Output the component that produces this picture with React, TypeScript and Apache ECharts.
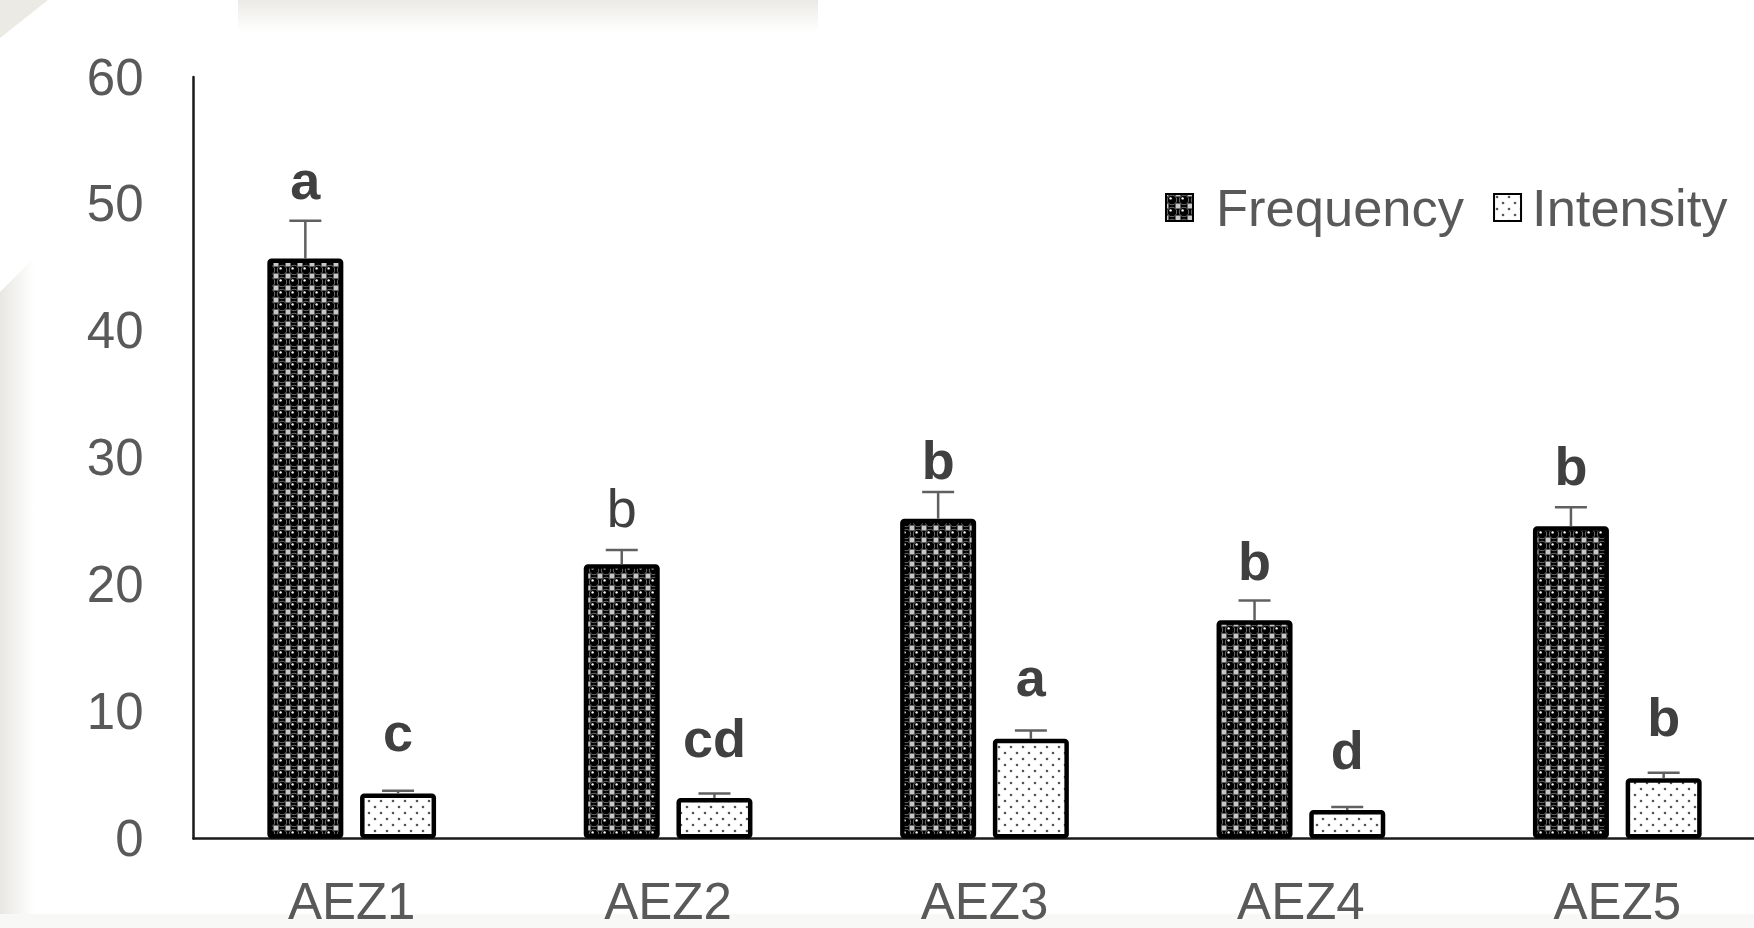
import React, { useEffect, useRef } from "react";
import * as echarts from "echarts";

const categories = ["AEZ1", "AEZ2", "AEZ3", "AEZ4", "AEZ5"];
const frequency = [45.7, 21.6, 25.2, 17.2, 24.6];
const frequencySE = [2.97, 1.13, 2.1, 1.55, 1.5];
const intensity = [3.55, 3.2, 7.85, 2.25, 4.75];
const intensitySE = [0.22, 0.35, 0.65, 0.23, 0.43];
const frequencyLetters = ["a", "b", "b", "b", "b"];
const intensityLetters = ["c", "cd", "a", "d", "b"];
const frequencyLetterBold = [true, false, true, true, true];
const intensityLetterBold = [true, true, true, true, true];
// height (in axis units) at which the bottom of each significance letter sits
const frequencyLetterY = [50.2, 24.4, 28.2, 20.2, 27.7];
const intensityLetterY = [6.7, 6.3, 11.1, 5.3, 7.9];
const yMin = 0;
const yMax = 60;
const yInterval = 10;

const FONT = "'Liberation Sans', Arial, Helvetica, sans-serif";
const TEXT_COLOR = "#595959";
const LETTER_COLOR = "#404040";
const ERR_COLOR = "#606060";
const BAR_W = 76;
const GAP = 0.22;
const OFFSET = (BAR_W * (1 + GAP)) / 2;

function sphereTile(): HTMLCanvasElement {
  const s = 12;
  const c = document.createElement("canvas");
  c.width = s;
  c.height = s;
  const g = c.getContext("2d")!;
  g.fillStyle = "#000";
  g.fillRect(0, 0, s, s);
  g.fillStyle = "#c8c8c8";
  const q = 2.5;
  g.fillRect(0, 0, q, q);
  g.fillRect(s - q, 0, q, q);
  g.fillRect(0, s - q, q, q);
  g.fillRect(s - q, s - q, q, q);
  g.strokeStyle = "#8a8a8a";
  g.lineWidth = 0.9;
  g.beginPath();
  g.arc(6, 6, 4.7, 0, Math.PI * 2);
  g.stroke();
  g.fillStyle = "#000";
  g.beginPath();
  g.arc(6, 6, 4.2, 0, Math.PI * 2);
  g.fill();
  g.fillStyle = "#ffffff";
  g.beginPath();
  g.arc(4.6, 4.4, 1.2, 0, Math.PI * 2);
  g.fill();
  return c;
}

function dotTile(): HTMLCanvasElement {
  const s = 12;
  const c = document.createElement("canvas");
  c.width = s;
  c.height = s;
  const g = c.getContext("2d")!;
  g.fillStyle = "#fff";
  g.fillRect(0, 0, s, s);
  g.fillStyle = "#555";
  [[3, 3], [9, 9]].forEach(([x, y]) => {
    g.beginPath();
    g.arc(x, y, 1.3, 0, Math.PI * 2);
    g.fill();
  });
  return c;
}

function errSeries(
  name: string,
  values: number[],
  se: number[],
  letters: string[],
  letterY: number[],
  bold: boolean[],
  side: number
) {
  return {
    type: "custom",
    name,
    silent: true,
    z: 5,
    data: values.map((v, i) => [i, v, v + se[i], letterY[i]]),
    encode: { x: 0, y: [1, 2] },
    renderItem: (params: any, api: any) => {
      const i = api.value(0);
      const base = api.coord([i, api.value(1)]);
      const top = api.coord([i, api.value(2)]);
      const lab = api.coord([i, api.value(3)]);
      const x = base[0] + side * OFFSET;
      return {
        type: "group",
        children: [
          {
            type: "line",
            shape: { x1: x, y1: base[1], x2: x, y2: top[1] },
            style: { stroke: ERR_COLOR, lineWidth: 2.5 },
          },
          {
            type: "line",
            shape: { x1: x - 16, y1: top[1], x2: x + 16, y2: top[1] },
            style: { stroke: ERR_COLOR, lineWidth: 2.5 },
          },
          {
            type: "text",
            x,
            y: lab[1] + 6,
            style: {
              text: letters[i],
              fontSize: 54,
              fontWeight: bold[i] ? "bold" : "normal",
              fontFamily: FONT,
              fill: LETTER_COLOR,
              align: "center",
              verticalAlign: "bottom",
            },
          },
        ],
      };
    },
  };
}

export default function App() {
  const ref = useRef<HTMLDivElement>(null);
  useEffect(() => {
    if (!ref.current) return;
    const chart = echarts.init(ref.current, null, { renderer: "svg" });
    const sphere = sphereTile();
    const dots = dotTile();
    const option: any = {
      animation: false,
      backgroundColor: "#ffffff",
      grid: {
        left: 193.5,
        top: 77,
        width: 1582,
        height: 761.5,
        outerBoundsMode: "none",
        containLabel: false,
      },
      legend: {
        left: 1160,
        top: 176,
        itemWidth: 27,
        itemHeight: 27,
        itemGap: 29,
        icon: "rect",
        textStyle: { fontSize: 52.5, color: TEXT_COLOR, fontFamily: FONT },
        data: [
          { name: "Frequency", textStyle: { padding: [0, 0, 0, 18] } },
          { name: "Intensity", textStyle: { padding: [0, 0, 0, 6] } },
        ],
      },
      xAxis: {
        type: "category",
        data: categories,
        axisLine: { show: true, lineStyle: { color: "#1a1a1a", width: 2.5 } },
        axisTick: { show: false },
        axisLabel: { fontSize: 51, color: TEXT_COLOR, fontFamily: FONT, margin: 37 },
        splitLine: { show: false },
      },
      yAxis: {
        type: "value",
        min: yMin,
        max: yMax,
        interval: yInterval,
        axisLine: { show: true, lineStyle: { color: "#1a1a1a", width: 2.5 } },
        axisTick: { show: false },
        splitLine: { show: false },
        axisLabel: { fontSize: 51, color: TEXT_COLOR, fontFamily: FONT, margin: 50 },
      },
      graphic: [
        {
          type: "polygon",
          z: -10,
          silent: true,
          shape: { points: [[0, 0], [48, 0], [0, 38]] },
          style: { fill: "#ebeae5" },
        },
        {
          type: "rect",
          z: -10,
          silent: true,
          shape: { x: 238, y: 0, width: 580, height: 32 },
          style: {
            fill: new echarts.graphic.LinearGradient(0, 0, 0, 1, [
              { offset: 0, color: "#ebeae5" },
              { offset: 1, color: "#ffffff" },
            ]),
          },
        },
        {
          type: "polygon",
          z: -10,
          silent: true,
          shape: { points: [[0, 292], [34, 258], [34, 928], [0, 928]] },
          style: {
            fill: new echarts.graphic.LinearGradient(0, 0, 1, 0, [
              { offset: 0, color: "#e8e7e2" },
              { offset: 1, color: "#ffffff" },
            ]),
          },
        },
        {
          type: "rect",
          z: -10,
          silent: true,
          shape: { x: 0, y: 914, width: 1754, height: 14 },
          style: { fill: "#f8f8f6" },
        },
      ],
      series: [
        {
          name: "Frequency",
          type: "bar",
          data: frequency,
          barWidth: BAR_W,
          barGap: GAP * 100 + "%",
          itemStyle: {
            color: { image: sphere, repeat: "repeat", imageWidth: 12, imageHeight: 12 },
            borderColor: "#000",
            borderWidth: 4.5,
            borderRadius: 2,
          },
        },
        {
          name: "Intensity",
          type: "bar",
          data: intensity,
          barWidth: BAR_W,
          barGap: GAP * 100 + "%",
          itemStyle: {
            color: { image: dots, repeat: "repeat", imageWidth: 12, imageHeight: 12 },
            borderColor: "#000",
            borderWidth: 4.5,
            borderRadius: 2,
          },
        },
        errSeries("FrequencyErr", frequency, frequencySE, frequencyLetters, frequencyLetterY, frequencyLetterBold, -1),
        errSeries("IntensityErr", intensity, intensitySE, intensityLetters, intensityLetterY, intensityLetterBold, 1),
      ],
    };
    chart.setOption(option);
    return () => chart.dispose();
  }, []);
  return (
    <div
      ref={ref}
      style={{ position: "fixed", left: 0, top: 0, width: 1754, height: 928, background: "#fff" }}
    />
  );
}
